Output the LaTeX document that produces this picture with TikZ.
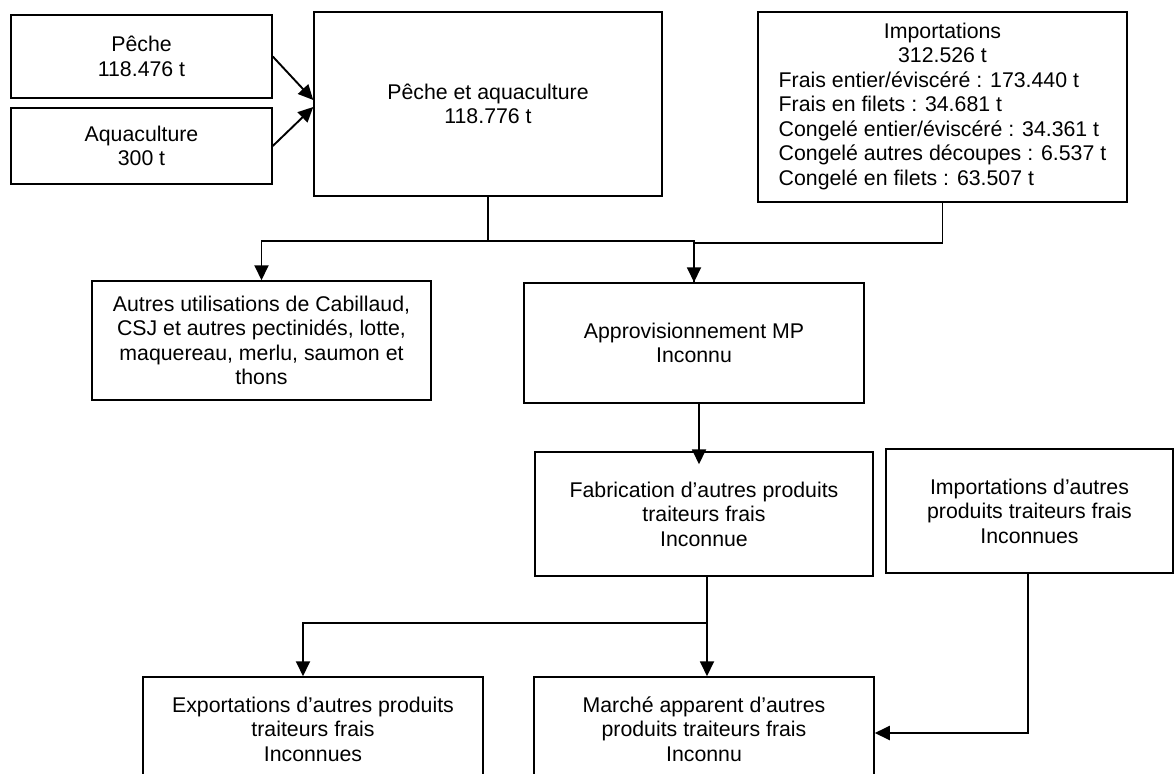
\documentclass[tikz,border=0pt]{standalone}
\usepackage{fontspec}
\setmainfont{Liberation Sans}
\usetikzlibrary{arrows.meta}
\begin{document}
\begin{tikzpicture}[x=1pt,y=-1pt,
  flowbox/.style={draw, line width=1.5pt, rectangle, inner sep=0pt, align=center,
    font=\fontsize{21.3}{24.5}\selectfont},
  flowline/.style={line width=1.9pt},
  flowarrow/.style={line width=1.9pt, -{Triangle[length=15pt,width=14pt]}}]
\useasboundingbox (0,0) rectangle (1174,773);
\clip (0,0) rectangle (1174,773);

% supply side
\node[flowbox, minimum width=261pt, minimum height=83pt] (peche) at (141.5,56.5) {Pêche\\118.476 t};
\node[flowbox, minimum width=261pt, minimum height=76pt] (aqua) at (141.5,146) {Aquaculture\\300 t};
\node[flowbox, minimum width=348pt, minimum height=184pt] (pa) at (488,104) {Pêche et aquaculture\\118.776 t};
\node[flowbox, minimum width=369pt, minimum height=190pt] (imp) at (942.5,107)
  {\begin{tabular}{@{}l@{}}
   \multicolumn{1}{@{}c@{}}{Importations}\\
   \multicolumn{1}{@{}c@{}}{312.526 t}\\
   Frais entier/éviscéré : 173.440 t\\
   Frais en filets : 34.681 t\\
   Congelé entier/éviscéré : 34.361 t\\
   Congelé autres découpes : 6.537 t\\
   Congelé en filets : 63.507 t
   \end{tabular}};

% uses and processing
\node[flowbox, minimum width=339pt, minimum height=119pt] (autres) at (261.5,340.5)
  {Autres utilisations de Cabillaud,\\CSJ et autres pectinidés, lotte,\\maquereau, merlu, saumon et\\thons};
\node[flowbox, minimum width=340pt, minimum height=120pt] (appro) at (694,343) {Approvisionnement MP\\Inconnu};
\node[flowbox, minimum width=338pt, minimum height=124pt] (fab) at (704,514)
  {Fabrication d’autres produits\\traiteurs frais\\Inconnue};
\node[flowbox, minimum width=287pt, minimum height=124pt] (impa) at (1029.5,511)
  {Importations d’autres\\produits traiteurs frais\\Inconnues};

% market
\node[flowbox, minimum width=340pt, minimum height=104pt] (expo) at (313,729)
  {Exportations d’autres produits\\traiteurs frais\\Inconnues};
\node[flowbox, minimum width=340pt, minimum height=104pt] (marche) at (704,729)
  {Marché apparent d’autres\\produits traiteurs frais\\Inconnu};

% connectors
\draw[flowarrow] (peche.east) -- ([yshift=4pt]pa.west);
\draw[flowarrow] (aqua.east) -- ([yshift=-3pt]pa.west);
\draw[flowarrow] (pa.south) -- ++(0,44) -| (autres.north);
\draw[flowarrow] (pa.south) -- ++(0,44) -| (appro.north);
\draw[flowline] (imp.south) -- ++(0,40) -| (appro.north);
\draw[flowarrow] ([xshift=5pt]appro.south) -- ([xshift=-5pt,yshift=-13pt]fab.north);
\draw[flowarrow] ([xshift=3pt]fab.south) -- ++(0,46) -| ([xshift=-10pt]expo.north);
\draw[flowarrow] ([xshift=3pt]fab.south) -- ([xshift=3pt]marche.north);
\draw[flowarrow] ([xshift=-1.5pt]impa.south) |- ([yshift=-4pt]marche.east);
\end{tikzpicture}
\end{document}
